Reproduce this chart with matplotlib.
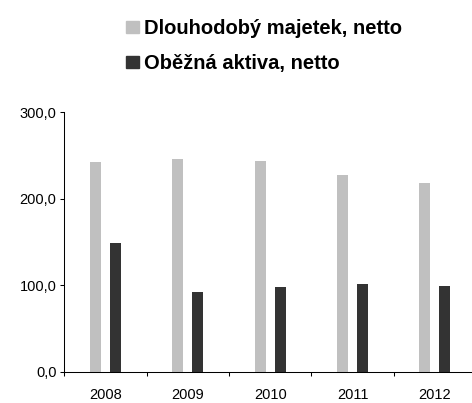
import matplotlib.pyplot as plt
import numpy as np
from matplotlib.patches import Patch
from matplotlib.ticker import FixedLocator

plt.rcParams['font.family'] = ['Liberation Sans', 'DejaVu Sans']

# data
years = ['2008', '2009', '2010', '2011', '2012']
dlouhodoby = [242.5, 246.0, 243.5, 227.5, 218.0]
obezna = [148.8, 92.0, 98.0, 101.4, 99.0]
labels = ['Dlouhodobý majetek, netto', 'Oběžná aktiva, netto']

fig = plt.figure(figsize=(4.72, 4.03), dpi=100)
ax = fig.add_axes([64.3 / 472, 1 - 371.7 / 403, 1 - 64.3 / 472, 259.4 / 403])

x = np.arange(len(years))
w = 0.133
ax.bar(x - 0.121, dlouhodoby, width=w, color='#c0c0c0')
ax.bar(x + 0.121, obezna, width=w, color='#333333')

ax.set_xlim(-0.5, 4.45)
ax.set_ylim(0, 300)
ax.set_yticks([0, 100, 200, 300])
ax.set_yticklabels(['0,0', '100,0', '200,0', '300,0'])
ax.set_xticks(x)
ax.set_xticklabels(years)
ax.xaxis.set_minor_locator(FixedLocator(np.arange(-0.5, 5, 1.0)))
ax.tick_params(axis='x', which='major', length=0, pad=11.5, labelsize=10.5)
ax.tick_params(axis='x', which='minor', length=3.2, width=0.75, direction='out')
ax.tick_params(axis='y', length=3.2, width=0.75, pad=2.5, labelsize=10.5)

for s in ['top', 'right']:
    ax.spines[s].set_visible(False)
for s in ['left', 'bottom']:
    ax.spines[s].set_linewidth(0.75)

handles = [Patch(color='#c0c0c0'), Patch(color='#333333')]
fig.legend(handles, labels, loc='upper left', bbox_to_anchor=(126 / 472, 1 - 19 / 403),
           frameon=False, borderpad=0, borderaxespad=0,
           handlelength=0.67, handleheight=0.6, handletextpad=0.2,
           labelspacing=0.8, prop={'weight': 'bold', 'size': 14.5})

fig.savefig('out.png', dpi=100)
